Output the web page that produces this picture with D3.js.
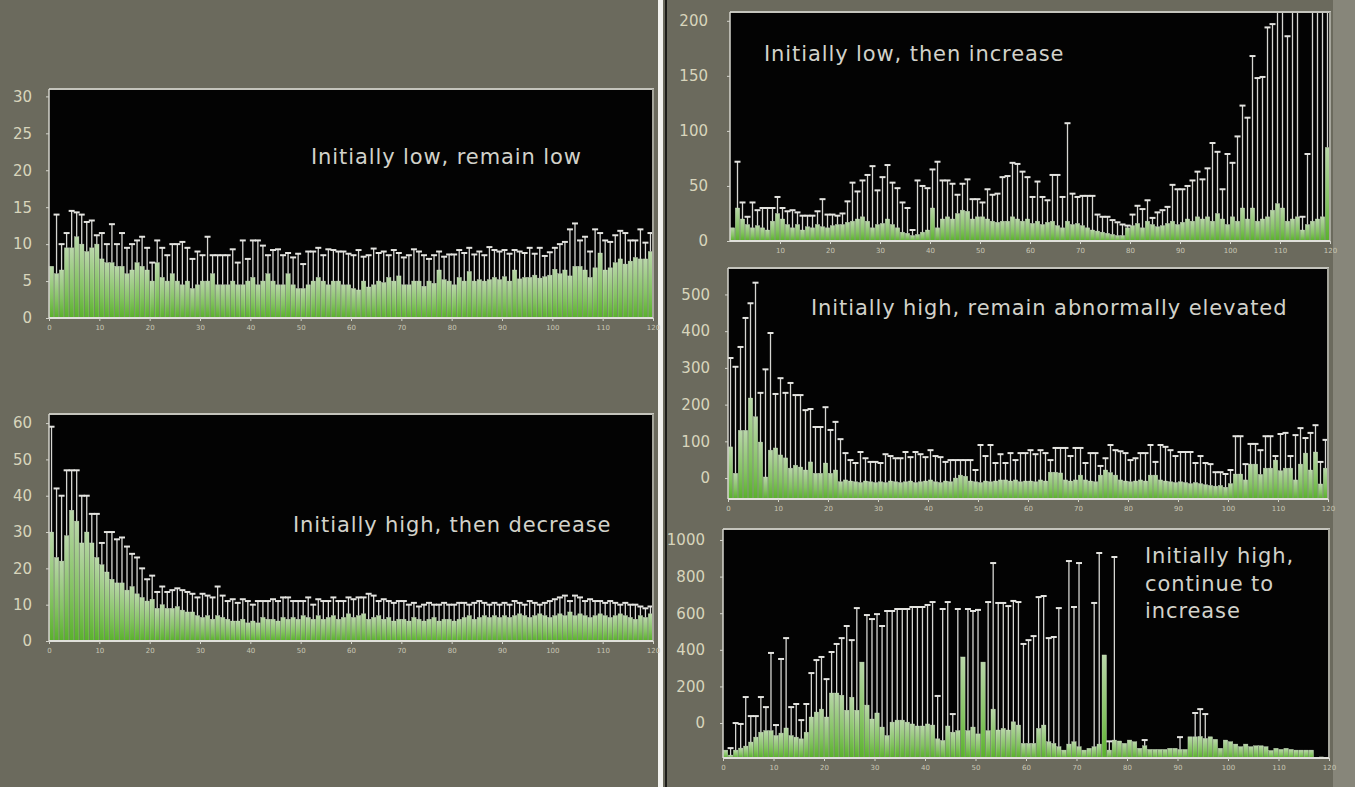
<!DOCTYPE html>
<html>
<head>
<meta charset="utf-8">
<script src="https://cdn.jsdelivr.net/npm/d3@7"></script>
<style>
  html, body { margin: 0; padding: 0; background: #6b6a5d; }
  svg { display: block; }
</style>
</head>
<body>
<div id="chart"></div>
<script>
// ---- data (one value per day 0..119) ----
var xTicks = d3.range(0, 121, 10);

var titles = {
  lowLow: ["Initially low, remain low"],
  highDec: ["Initially high, then decrease"],
  lowInc: ["Initially low, then increase"],
  highElev: ["Initially high, remain abnormally elevated"],
  highInc: ["Initially high,", "continue to", "increase"]
};

var yTicksLowLow = [0, 5, 10, 15, 20, 25, 30];
var yTicksHighDec = [0, 10, 20, 30, 40, 50, 60];
var yTicksLowInc = [0, 50, 100, 150, 200];
var yTicksHighElev = [0, 100, 200, 300, 400, 500];
var yTicksHighInc = [0, 200, 400, 600, 800, 1000];

// mean (bar top) and mean + SD (error bar top)
var meanLowLow = [
  7,6,6.5,9.5,9.5,11,10,9,9.5,10,
  8,7.5,7.5,7,7,6,6.5,7.5,7,6.5,
  5,7.5,5.5,5,6,5,4.5,5,4,4.5,
  5,5,6,4.5,4.5,4.5,5,4.5,4.5,5,
  5.5,4.5,5,6,5,4.5,4.5,6,4.5,4,
  4,4.5,5,5.5,5,4.5,5,5,4.5,4.5,
  4,3.8,5,4.2,4.5,5,4.8,5.5,5,5.7,
  4.5,4.5,5,5,4.3,5,4.7,6.5,5.2,5,
  4.5,5.5,5,6.3,5,5.2,5,5.2,5.5,5.2,
  5.6,5,6.5,5.3,5.5,5.5,5.8,5.4,5.6,5.8,
  6.6,6,6.5,5.7,7,7,6.5,5.5,6.8,8.8,
  6.5,6.8,7.5,8,7.3,7.7,8.2,8,8,9
];
var errLowLow = [
  7,14,10,11.5,14.5,14.3,14,13,13.2,11.2,
  11.5,10,12.7,10,11.5,9.5,10,10.5,11,9.5,
  7.5,10.5,9.5,8.5,10,10,10.3,9.5,8,9,
  8.5,11,8.5,8.5,8.5,8.5,9.3,7.5,10.5,8,
  10.5,10.5,9.8,8.5,9.2,9.3,8.5,8.8,8.2,8.7,
  7.3,9,9,9.5,8.5,9.3,9.2,9,9,8.7,
  8.5,9.2,8.3,8.5,9.4,8.8,9,8.5,9.2,8.8,
  8.2,8.5,9.3,9,8.5,8,8.5,9,8.3,8.6,
  8.6,9.2,8.8,9.5,8.6,9,8.5,9.6,9.2,9,
  9.2,8.7,9.2,9,8.8,9.5,8.7,9.5,8.4,8.9,
  9.5,10,10.3,12,12.8,10.5,11,9,12,11.5,
  10.5,10.3,11.2,11.8,11.5,10.5,10.5,12,10.2,11.5
];

var meanHighDec = [
  30,23,22,29,36,33,27,30,27,23,
  21,19,17,16,16,14,15,13,12,11,
  11.5,9,10,9,9,9.5,8.5,8,8,7,
  6.5,7,6,7,6.5,6,5.5,5.5,6,5,
  5.5,5,6.5,6,6,5.5,6.5,6,6.5,6,
  7,6.5,6,7,6,6.5,7,6,6.5,7.5,
  6.5,7,7.5,6,6.5,7,6,6.5,5.5,6,
  6,5.5,6.5,6,5.5,6,6.5,5.5,6,6,
  5.5,6,6.5,7,6,6.5,7,6.5,7,6.5,
  7,6.5,7,7.5,7,6.5,7,7.5,7,6.5,
  7,7.5,7,8,7,7.5,7,6.5,7,7.5,
  7,6.5,7,7.5,7,6.5,6,7,6.5,7.5
];
var errHighDec = [
  59,42,40,47,47,47,40,40,35,35,
  27,30,30,28,28.5,26,24,23,20,17,
  18,13.5,15,13.5,14,14.5,14,13.5,13,12,
  13,12.5,12,15,12.5,11,11.5,10.5,11.5,11,
  10,11,11,11,11.5,11,12,12,11,11,
  11,12,10,11.5,11,11,12,11,11,12,
  11.5,12,12,13,12.5,11,11.5,11,10.5,11,
  11,10,10.5,9.5,10,10.5,10,10,10.5,10,
  10,10.5,10.5,10,10.5,11,10.5,10,10.5,10,
  10.5,10,11,10.5,10,11,10.5,10,10.5,11,
  11.5,12,12.5,11,12.5,12,11,11.5,11,11,
  10.5,11,10.5,10,10.5,10,10,9.5,9,9.5
];

var meanLowInc = [
  12,30,20,15,12,14,12,10,18,25,
  20,15,12,15,10,13,12,15,13,12,
  14,15,15,17,18,20,22,18,12,15,
  16,20,15,12,8,7,5,6,8,10,
  30,12,20,22,20,25,28,27,20,22,
  22,20,18,17,18,18,22,20,18,20,
  16,18,15,17,18,14,12,18,15,16,
  14,12,10,9,8,7,6,5,5,12,
  14,16,12,18,15,13,14,16,18,15,
  17,20,18,22,20,22,18,25,20,15,
  22,18,30,20,30,18,20,22,28,34,
  30,18,20,22,10,15,18,20,22,85
];
var errLowInc = [
  12,72,35,22,35,28,30,30,30,40,
  30,27,28,26,23,23,23,27,38,24,
  24,23,25,36,53,45,55,60,68,46,
  58,69,53,48,35,30,10,55,50,48,
  65,72,55,55,52,42,52,56,38,38,
  35,47,42,43,58,59,71,70,63,58,
  40,54,40,37,60,60,40,107,43,40,
  41,41,41,24,22,22,19,17,15,14,
  24,32,29,37,21,26,28,31,51,47,
  47,50,55,63,56,66,89,81,47,79,
  71,95,123,112,168,148,149,194,197,250,
  250,186,250,250,22,79,250,250,250,250
];

var meanHighElev = [
  85,13,130,130,218,167,98,3,76,82,
  63,55,27,35,30,22,44,13,13,41,
  13,22,-10,-5,-8,-10,-12,-8,-10,-12,
  -10,-12,-8,-10,-12,-10,-8,-12,-10,-8,
  -5,-10,-12,-8,-10,0,8,5,-8,-10,
  -12,-8,-10,-8,-5,-5,-8,-5,-10,-8,
  -8,-10,-5,-8,16,16,14,-5,-8,-5,
  8,-5,-8,-10,8,22,15,8,-5,-8,
  -10,-8,-5,-8,8,8,-5,-8,-10,-12,
  -10,-12,-15,-12,-15,-18,-20,-22,-20,-25,
  -15,11,11,-5,38,38,10,27,27,49,
  20,27,27,-5,38,68,22,71,-16,27
];
var errHighElev = [
  327,303,357,436,476,532,232,296,395,229,
  272,232,259,226,226,185,188,139,139,193,
  131,153,106,68,49,41,71,54,44,44,
  41,65,60,54,54,71,57,71,65,57,
  76,60,57,44,49,49,49,49,49,22,
  90,60,90,41,65,41,68,49,68,68,
  76,65,76,68,49,82,82,82,60,82,
  82,41,68,68,33,54,90,76,73,68,
  49,54,68,68,90,44,90,85,76,60,
  71,71,71,41,60,41,38,16,16,11,
  22,114,114,38,93,93,76,114,114,60,
  120,123,60,117,136,109,123,144,44,104
];

var meanHighInc = [
  -148,-175,-148,-137,-126,-104,-77,-50,-41,-41,
  -68,-55,-27,-68,-77,-86,-50,33,60,76,
  33,164,164,152,70,141,70,333,98,22,
  55,-22,-68,5,16,16,5,-5,-16,-16,
  -5,-11,-86,-95,-16,-50,-41,361,-41,-22,
  -59,333,-41,76,-38,-29,-38,7,-11,-111,
  -111,-111,-29,-11,-102,-111,-129,-148,-115,-102,
  -129,-148,-138,-129,-115,372,-148,-93,-98,-111,
  -93,-102,-138,-124,-144,-144,-144,-144,-138,-138,
  -144,-144,-75,-75,-73,-84,-75,-89,-138,-93,
  -102,-115,-129,-115,-129,-124,-124,-129,-150,-138,
  -144,-138,-144,-148,-148,-148,-148,-191,-185,-191
];
var errHighInc = [
  -148,-137,0,-5,142,38,38,142,87,383,
  -11,350,464,87,104,16,104,273,344,361,
  240,388,432,464,530,453,628,333,590,568,
  595,530,612,612,623,623,623,634,634,634,
  645,661,148,623,661,49,623,361,623,612,
  618,333,661,874,656,656,639,667,661,432,
  453,475,688,694,464,470,628,-148,885,634,
  874,-148,-138,656,929,372,-100,907,-98,-111,
  -93,-102,-138,-93,-144,-144,-144,-144,-138,-138,
  -77,-144,-75,55,76,49,-75,-89,-138,-93,
  -102,-115,-129,-115,-129,-124,-124,-129,-150,-138,
  -144,-138,-144,-148,-148,-148,-148,-191,-185,-191
];

// ---- layout ----
var W = 1355, H = 787;

var panels = [
  {id: "p1", mean: meanLowLow, err: errLowLow, yTicks: yTicksLowLow, title: titles.lowLow,
   yDomain: [0, 31], left: 49, right: 653, top: 89, bottom: 318, labelPad: 14,
   titleX: 311, titleY: 164, xTicks: xTicks},
  {id: "p2", mean: meanHighDec, err: errHighDec, yTicks: yTicksHighDec, title: titles.highDec,
   yDomain: [0, 62.5], left: 49, right: 653, top: 414, bottom: 641, labelPad: 14,
   titleX: 293, titleY: 532, xTicks: xTicks},
  {id: "p3", mean: meanLowInc, err: errLowInc, yTicks: yTicksLowInc, title: titles.lowInc,
   yDomain: [0, 208], left: 730, right: 1330, top: 12, bottom: 241, labelPad: 19,
   titleX: 764, titleY: 61, xTicks: xTicks.slice(1)},
  {id: "p4", mean: meanHighElev, err: errHighElev, yTicks: yTicksHighElev, title: titles.highElev,
   yDomain: [-57, 572], left: 728, right: 1328, top: 268, bottom: 499, labelPad: 15,
   titleX: 811, titleY: 315, xTicks: xTicks},
  {id: "p5", mean: meanHighInc, err: errHighInc, yTicks: yTicksHighInc, title: titles.highInc,
   yDomain: [-191, 1060], left: 723, right: 1329, top: 529, bottom: 758, labelPad: 15,
   titleX: 1145, titleY: 563, xTicks: xTicks}
];

var svg = d3.select("#chart")
  .append("svg")
    .attr("width", W)
    .attr("height", H);

// background pieces
svg.append("rect").attr("x", 0).attr("y", 0).attr("width", W).attr("height", H).attr("fill", "#6b6a5d");
svg.append("rect").attr("x", 1333).attr("y", 0).attr("width", 22).attr("height", H).attr("fill", "#87867a");
svg.append("rect").attr("x", 658).attr("y", 0).attr("width", 5).attr("height", H).attr("fill", "#f2f2ee");
svg.append("rect").attr("x", 665).attr("y", 0).attr("width", 2).attr("height", H).attr("fill", "#1c1c18");

// bar fill: vivid green at the base fading to pale green at the top
var defs = svg.append("defs");
var grad = defs.append("linearGradient")
  .attr("id", "barGrad")
  .attr("x1", 0).attr("y1", 1).attr("x2", 0).attr("y2", 0);
grad.append("stop").attr("offset", "0%").attr("stop-color", "#62c42e");
grad.append("stop").attr("offset", "40%").attr("stop-color", "#92d86c");
grad.append("stop").attr("offset", "100%").attr("stop-color", "#cdeebb");

panels.forEach(function(p) {
  var g = svg.append("g").attr("id", p.id);

  var x = d3.scaleLinear().domain([0, 120]).range([p.left, p.right]);
  var y = d3.scaleLinear().domain(p.yDomain).range([p.bottom, p.top]);
  var base = y(p.yDomain[0]);

  // black plot area
  g.append("rect")
    .attr("x", p.left).attr("y", p.top)
    .attr("width", p.right - p.left).attr("height", p.bottom - p.top)
    .attr("fill", "#030303");

  defs.append("clipPath").attr("id", "clip-" + p.id)
    .append("rect")
      .attr("x", p.left).attr("y", p.top)
      .attr("width", p.right - p.left).attr("height", p.bottom - p.top);

  var plot = g.append("g").attr("clip-path", "url(#clip-" + p.id + ")");

  var rows = p.mean.map(function(m, i) { return {i: i, mean: m, err: p.err[i]}; });

  // bars
  plot.selectAll("rect.bar")
    .data(rows)
    .enter().append("rect")
      .attr("class", "bar")
      .attr("x", function(d) { return x(d.i) + 0.3; })
      .attr("width", function(d) { return x(d.i + 1) - x(d.i) - 0.6; })
      .attr("y", function(d) { return y(d.mean); })
      .attr("height", function(d) { return Math.max(0, base - y(d.mean)); })
      .attr("fill", "url(#barGrad)")
      .attr("fill-opacity", 0.9)
      .attr("stroke", "#e2f5d8")
      .attr("stroke-width", 0.5)
      .attr("stroke-opacity", 0.6);

  // error bars (only where the SD sits above the mean)
  var eb = rows.filter(function(d) { return d.err > d.mean; });
  plot.selectAll("line.err")
    .data(eb)
    .enter().append("line")
      .attr("class", "err")
      .attr("x1", function(d) { return x(d.i + 0.5); })
      .attr("x2", function(d) { return x(d.i + 0.5); })
      .attr("y1", function(d) { return y(d.mean); })
      .attr("y2", function(d) { return y(d.err); })
      .attr("stroke", "#d6d6d2")
      .attr("stroke-width", 1.3);
  plot.selectAll("line.cap")
    .data(eb)
    .enter().append("line")
      .attr("class", "cap")
      .attr("x1", function(d) { return x(d.i + 0.5) - 3; })
      .attr("x2", function(d) { return x(d.i + 0.5) + 3; })
      .attr("y1", function(d) { return y(d.err); })
      .attr("y2", function(d) { return y(d.err); })
      .attr("stroke", "#e4e4e0")
      .attr("stroke-width", 2);

  // frame: top and right edges
  g.append("line")
    .attr("x1", p.left).attr("x2", p.right + 1)
    .attr("y1", p.top).attr("y2", p.top)
    .attr("stroke", "#c4c4bc").attr("stroke-width", 2);
  g.append("line")
    .attr("x1", p.right).attr("x2", p.right)
    .attr("y1", p.top).attr("y2", p.bottom)
    .attr("stroke", "#a6a69c").attr("stroke-width", 2);

  // Y axis
  var yAxis = g.append("g")
    .attr("transform", "translate(" + p.left + ",0)")
    .call(d3.axisLeft(y).tickValues(p.yTicks).tickFormat(d3.format("d"))
      .tickSize(3).tickPadding(p.labelPad));
  yAxis.select(".domain").attr("stroke", "#d4d4cc").attr("stroke-width", 1.5)
    .attr("d", "M0," + p.bottom + "V" + p.top);
  yAxis.selectAll(".tick line").attr("stroke", "#d4d4cc");
  yAxis.selectAll(".tick text")
    .attr("fill", "#d8d5bc")
    .style("font-family", "'DejaVu Sans', Verdana, sans-serif")
    .style("font-size", "15px");

  // X axis
  var xAxis = g.append("g")
    .attr("transform", "translate(0," + p.bottom + ")")
    .call(d3.axisBottom(x).tickValues(p.xTicks).tickSize(3).tickPadding(4));
  xAxis.select(".domain").attr("stroke", "#e0e0da").attr("stroke-width", 2)
    .attr("d", "M" + p.left + ",0H" + p.right);
  xAxis.selectAll(".tick line").attr("stroke", "#d4d4cc");
  xAxis.selectAll(".tick text")
    .attr("fill", "#c8c6b4")
    .style("font-family", "'DejaVu Sans', sans-serif")
    .style("font-size", "7px");

  // title
  var t = g.append("text")
    .attr("x", p.titleX).attr("y", p.titleY)
    .attr("fill", "#d2d2ca")
    .style("font-family", "'DejaVu Sans', Verdana, sans-serif")
    .style("font-size", "21px")
    .style("letter-spacing", "0.9px");
  p.title.forEach(function(line, k) {
    t.append("tspan").attr("x", p.titleX).attr("dy", k === 0 ? 0 : 27.5).text(line);
  });
});
</script>
</body>
</html>
